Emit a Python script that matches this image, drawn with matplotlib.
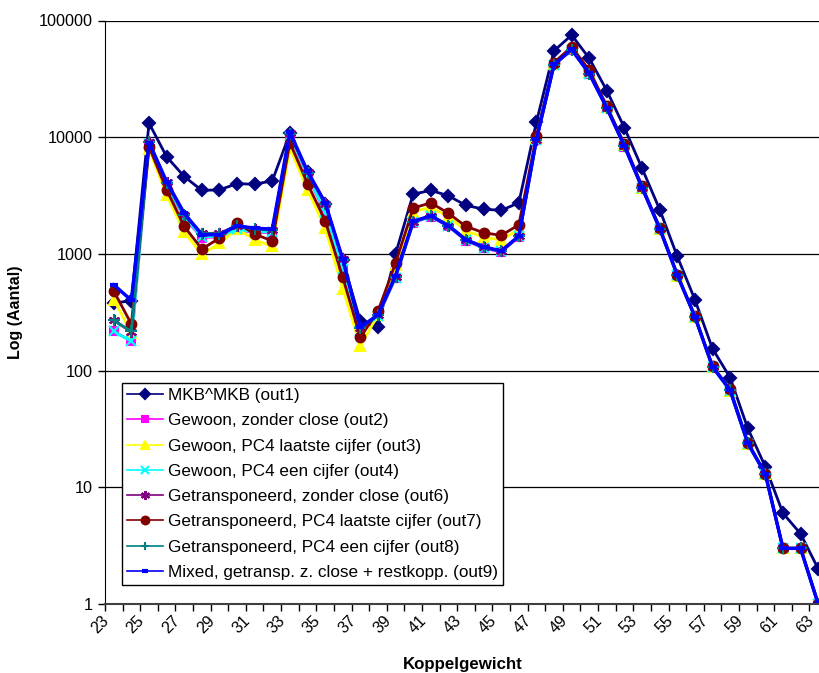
import numpy as np
import matplotlib
matplotlib.use("Agg")
import matplotlib.pyplot as plt
from matplotlib.ticker import FixedLocator, NullLocator
from matplotlib.transforms import ScaledTranslation

plt.rcParams["font.family"] = ["Liberation Sans", "DejaVu Sans"]

# koppelgewicht 23 .. 63
gewicht = list(range(23, 64))

out1 = [380, 396, 13200, 6800, 4600, 3500, 3540, 4000, 3950, 4230, 10800,
        5000, 2700, 880, 265, 236, 1000, 3250, 3500, 3150, 2600, 2420, 2360,
        2740, 13500, 55000, 75000, 47400, 25000, 12000, 5400, 2400, 950, 405,
        154, 87, 32, 15, 6, 4, 2]
out2 = [217, 178, 8700, 3800, 2050, 1380, 1400, 1600, 1530, 1520, 10200,
        4700, 2250, 735, 218, 291, 621, 1850, 2090, 1720, 1300, 1120, 1040,
        1400, 9450, 41600, 56000, 34800, 17700, 8300, 3660, 1640, 655, 287,
        107, 67, 23.5, 13, 3, 3, 1]
out3 = [405, 211, 7900, 3200, 1540, 990, 1230, 1650, 1320, 1160, 8050,
        3540, 1660, 505, 163, 300, 800, 2300, 2520, 2090, 1580, 1390, 1320,
        1620, 9900, 42500, 58000, 36500, 18000, 8500, 3700, 1640, 650, 286,
        107, 67, 23.5, 13, 3, 3, 1]
out4 = [217, 178, 8800, 3850, 2080, 1400, 1420, 1620, 1550, 1540, 10300,
        4750, 2300, 745, 220, 293, 625, 1860, 2100, 1730, 1310, 1130, 1050,
        1410, 9500, 41800, 56200, 35000, 17800, 8350, 3680, 1650, 658, 288,
        107, 67, 23.5, 13, 3, 3, 1]
out6 = [269, 215, 9150, 4100, 2150, 1500, 1500, 1750, 1640, 1600, 10800,
        5000, 2700, 900, 232, 300, 640, 1890, 2110, 1750, 1320, 1140, 1055,
        1415, 9550, 42000, 56500, 35200, 17800, 8400, 3700, 1650, 660, 290,
        108, 68, 24, 13, 3, 3, 1]
out7 = [480, 250, 8300, 3540, 1720, 1100, 1365, 1840, 1480, 1290, 9000,
        4000, 1930, 630, 193, 323, 834, 2470, 2740, 2230, 1720, 1520, 1440,
        1775, 10300, 43600, 59500, 37500, 18500, 8700, 3800, 1680, 663, 291,
        109, 69, 24, 13, 3, 3, 1]
out8 = [269, 217, 9100, 4080, 2140, 1490, 1490, 1745, 1635, 1595, 10750,
        4980, 2690, 895, 232, 299, 638, 1885, 2105, 1745, 1318, 1138, 1052,
        1412, 9520, 41900, 56300, 35100, 17750, 8380, 3690, 1648, 658, 289,
        108, 68, 24, 13, 3, 3, 1]
out9 = [543, 400, 9000, 4150, 2230, 1460, 1460, 1740, 1660, 1630, 11000,
        5100, 2750, 900, 235, 300, 650, 1900, 2120, 1750, 1320, 1150, 1060,
        1420, 9600, 42000, 56500, 35200, 17800, 8400, 3700, 1650, 660, 290,
        108, 68, 24, 13, 3, 3, 1]

series = [
    (out1, "MKB^MKB (out1)", "#000080", "D", 6),
    (out2, "Gewoon, zonder close (out2)", "#FF00FF", "s", 6),
    (out3, "Gewoon, PC4 laatste cijfer (out3)", "#FFFF00", "^", 7),
    (out4, "Gewoon, PC4 een cijfer (out4)", "#00FFFF", "x", 7),
    (out6, "Getransponeerd, zonder close (out6)", "#800080", (6, 2, 0), 8),
    (out7, "Getransponeerd, PC4 laatste cijfer (out7)", "#800000", "o", 7),
    (out8, "Getransponeerd, PC4 een cijfer (out8)", "#008080", "+", 8),
    (out9, "Mixed, getransp. z. close + restkopp. (out9)", "#0000FF", "_", 6),
]

fig = plt.figure(figsize=(8.19, 6.73), dpi=100)
ax = fig.add_axes([105 / 819, 69 / 673, 722 / 819, 583.5 / 673])

for vals, label, color, marker, ms in series:
    lw = 2.5 if color == "#0000FF" else 2
    mew = 3 if marker == "_" else 1.5
    ax.plot(gewicht, vals, color=color, lw=lw, marker=marker, ms=ms,
            mfc=color, mec=color, mew=mew, label=label)

ax.set_yscale("log")
ax.set_ylim(1, 100000)
ax.set_xlim(22.5, 63.5)

yt = [1, 10, 100, 1000, 10000, 100000]
ax.yaxis.set_major_locator(FixedLocator(yt))
ax.yaxis.set_minor_locator(NullLocator())
ax.set_yticklabels([str(v) for v in yt], fontsize=11.7)
ax.grid(axis="y", color="black", lw=0.9)
ax.set_axisbelow(True)

# tick marks between categories
ax.set_xticks(np.arange(22.5, 64, 1))
ax.set_xticklabels([])
ax.tick_params(axis="x", which="major", direction="out", length=5, width=1)
ax.tick_params(axis="y", direction="out", length=5, width=1)

# slanted labels on every second category
lab_trans = ax.get_xaxis_transform() + ScaledTranslation(-7 / 100, -14 / 100,
                                                         fig.dpi_scale_trans)
for g in gewicht[::2]:
    ax.text(g, 0, str(g), transform=lab_trans, fontsize=11.5, rotation=45,
            ha="right", va="center", rotation_mode="anchor")

for side in ["top", "right"]:
    ax.spines[side].set_visible(False)
ax.spines["left"].set_color("black")
ax.spines["bottom"].set_color("#404040")
ax.spines["bottom"].set_linewidth(1.5)

ax.set_ylabel("Log (Aantal)", fontsize=11.5, fontweight="bold", labelpad=12)
fig.text(463 / 819, 1 - 664 / 673, "Koppelgewicht", fontsize=12.2,
         fontweight="bold", ha="center", va="center")

leg = ax.legend(loc="lower left", bbox_to_anchor=(0.0235, 0.0326),
                borderaxespad=0, fontsize=12.3, frameon=True, fancybox=False,
                edgecolor="black", framealpha=1, handlelength=2.1,
                labelspacing=0.6, borderpad=0.3, handletextpad=0.3,
                markerscale=0.8)
leg.get_frame().set_linewidth(1)
for line in leg.get_lines():
    line.set_linewidth(1.2)

fig.savefig("out.png", dpi=100)
